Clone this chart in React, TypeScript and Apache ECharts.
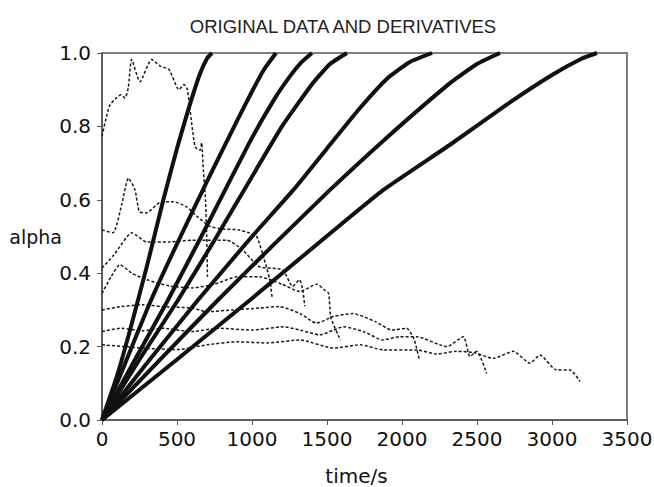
import React, { useEffect, useRef } from "react";
import * as echarts from "echarts";

// time/s vs alpha (solid curves, triangle markers in original)
const alpha1 = [[0, 0], [100, 0.12], [187, 0.245], [300, 0.42], [409, 0.6], [500, 0.74], [575, 0.845], [650, 0.94], [700, 0.985], [733, 1.0]];
const alpha2 = [[0, 0], [150, 0.15], [320, 0.32], [500, 0.48], [700, 0.65], [900, 0.815], [1000, 0.895], [1080, 0.955], [1160, 1.0]];
const alpha3 = [[0, 0], [200, 0.15], [440, 0.327], [700, 0.53], [987, 0.759], [1150, 0.875], [1250, 0.935], [1330, 0.975], [1400, 1.0]];
const alpha4 = [[0, 0], [250, 0.165], [507, 0.327], [750, 0.49], [987, 0.654], [1200, 0.8], [1400, 0.915], [1520, 0.97], [1633, 1.0]];
const alpha5 = [[0, 0], [300, 0.155], [640, 0.327], [1000, 0.5], [1276, 0.627], [1500, 0.74], [1720, 0.85], [1900, 0.93], [2050, 0.975], [2200, 1.0]];
const alpha6 = [[0, 0], [400, 0.17], [773, 0.327], [1150, 0.48], [1520, 0.627], [1900, 0.77], [2320, 0.918], [2500, 0.97], [2653, 1.0]];
const alpha7 = [[0, 0], [500, 0.165], [987, 0.327], [1540, 0.515], [1876, 0.627], [2320, 0.75], [2700, 0.86], [3000, 0.94], [3200, 0.985], [3300, 1.0]];

// derivative curves (dashed)
const deriv1 = [[0, 0.773], [49, 0.855], [93, 0.877], [127, 0.886], [153, 0.877], [175, 0.905], [198, 0.982], [253, 0.922], [331, 0.982], [389, 0.964], [447, 0.955], [513, 0.9], [547, 0.914], [569, 0.9], [620, 0.745], [653, 0.735], [664, 0.755], [676, 0.68], [690, 0.6], [698, 0.5], [703, 0.39]];
const deriv2 = [[0, 0.518], [73, 0.51], [133, 0.59], [176, 0.659], [220, 0.627], [249, 0.568], [293, 0.564], [398, 0.595], [476, 0.595], [567, 0.58], [633, 0.555], [722, 0.527], [820, 0.52], [913, 0.518], [980, 0.51], [1031, 0.5], [1080, 0.44], [1120, 0.38], [1135, 0.33]];
const deriv3 = [[0, 0.414], [80, 0.45], [200, 0.51], [300, 0.485], [450, 0.485], [600, 0.49], [830, 0.49], [936, 0.464], [1047, 0.418], [1204, 0.409], [1271, 0.364], [1316, 0.382], [1338, 0.355], [1352, 0.31]];
const deriv4 = [[0, 0.345], [60, 0.39], [120, 0.423], [200, 0.4], [300, 0.382], [450, 0.365], [600, 0.36], [750, 0.37], [900, 0.39], [1050, 0.39], [1200, 0.37], [1320, 0.35], [1433, 0.37], [1480, 0.355], [1511, 0.345], [1525, 0.28], [1589, 0.218]];
const deriv5 = [[0, 0.3], [130, 0.309], [270, 0.314], [400, 0.309], [600, 0.305], [700, 0.295], [870, 0.3], [1050, 0.305], [1180, 0.309], [1320, 0.29], [1431, 0.264], [1542, 0.282], [1673, 0.29], [1822, 0.268], [1933, 0.245], [2031, 0.25], [2080, 0.22], [2116, 0.164]];
const deriv6 = [[0, 0.241], [130, 0.25], [270, 0.243], [400, 0.25], [600, 0.241], [780, 0.25], [1000, 0.245], [1210, 0.254], [1320, 0.245], [1453, 0.232], [1542, 0.245], [1609, 0.254], [1750, 0.24], [1871, 0.218], [1987, 0.227], [2098, 0.227], [2298, 0.2], [2409, 0.227], [2453, 0.173], [2498, 0.187], [2564, 0.127]];
const deriv7 = [[0, 0.205], [150, 0.2], [300, 0.195], [500, 0.192], [700, 0.205], [900, 0.213], [1100, 0.21], [1320, 0.218], [1542, 0.196], [1720, 0.205], [1876, 0.191], [2098, 0.191], [2231, 0.18], [2364, 0.187], [2476, 0.184], [2609, 0.168], [2742, 0.187], [2853, 0.155], [2920, 0.177], [3031, 0.136], [3120, 0.136], [3187, 0.105]];

const alphaCurves = [alpha1, alpha2, alpha3, alpha4, alpha5, alpha6, alpha7];
const derivCurves = [deriv1, deriv2, deriv3, deriv4, deriv5, deriv6, deriv7];

const TITLE = "ORIGINAL DATA AND DERIVATIVES";
const X_NAME = "time/s";
const Y_NAME = "alpha";

export default function App() {
  const ref = useRef<HTMLDivElement>(null);
  useEffect(() => {
    const chart = echarts.init(ref.current!, null, { renderer: "svg" });
    const tickFont = "DejaVu Sans";
    const series: any[] = [];
    derivCurves.forEach((d, i) => {
      series.push({
        type: "line",
        name: "d" + (i + 1),
        data: d,
        smooth: 0.2,
        showSymbol: false,
        lineStyle: { color: "#1a1a1a", width: 1.5, type: [3, 2] },
        z: 2,
      });
    });
    alphaCurves.forEach((d, i) => {
      series.push({
        type: "line",
        name: "a" + (i + 1),
        data: d,
        smooth: 0.15,
        showSymbol: false,
        lineStyle: { color: "#111", width: 4 },
        z: 3,
      });
    });
    chart.setOption({
      animation: false,
      backgroundColor: "#fff",
      title: {
        text: TITLE,
        left: 338,
        textAlign: "center",
        top: 12,
        textStyle: { fontSize: 18.5, fontWeight: "normal", fontFamily: "Liberation Sans", color: "#222" },
      },
      grid: {
        left: 102,
        right: 27,
        top: 53,
        bottom: 67,
        containLabel: false,
        outerBoundsMode: "none",
        show: true,
        borderColor: "#555",
        borderWidth: 1.5,
        backgroundColor: "transparent",
      },
      xAxis: {
        type: "value",
        min: 0,
        max: 3500,
        interval: 500,
        name: X_NAME,
        nameLocation: "middle",
        nameGap: 46,
        nameMoveOverlap: false,
        nameTextStyle: { fontSize: 20, fontFamily: tickFont, color: "#111", padding: [0, 16, 0, 0] },
        axisLine: { show: true, lineStyle: { color: "#555", width: 1.5 } },
        axisTick: { show: true, length: 5, lineStyle: { color: "#555" } },
        axisLabel: {
          fontSize: 20,
          fontFamily: tickFont,
          color: "#111",
          margin: 9,
          formatter: (v: number) => String(v),
        },
        splitLine: { show: false },
      },
      yAxis: {
        type: "value",
        min: 0,
        max: 1,
        interval: 0.2,
        name: Y_NAME,
        nameLocation: "middle",
        nameRotate: 0,
        nameGap: 40,
        nameMoveOverlap: false,
        nameTextStyle: { fontSize: 19, fontFamily: tickFont, color: "#111", padding: [8, 0, 0, 0] },
        axisLine: { show: true, lineStyle: { color: "#555", width: 1.5 } },
        axisTick: { show: true, length: 5, lineStyle: { color: "#555" } },
        axisLabel: {
          fontSize: 20,
          fontFamily: tickFont,
          color: "#111",
          margin: 11,
          formatter: (v: number) => v.toFixed(1),
        },
        splitLine: { show: false },
      },
      series,
    });
    return () => chart.dispose();
  }, []);
  return <div ref={ref} style={{ position: "fixed", left: 0, top: 0, width: 654, height: 487 }} />;
}
